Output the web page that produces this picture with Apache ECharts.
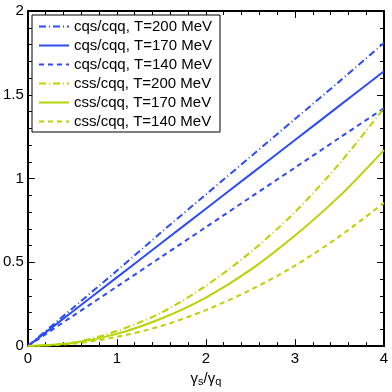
<!DOCTYPE html>
<html>
<head>
<meta charset="utf-8">
<script src="https://cdn.jsdelivr.net/npm/echarts@6/dist/echarts.min.js"></script>
<style>
  html, body { margin: 0; padding: 0; background: #fff; }
  #chart { width: 392px; height: 392px; }
</style>
</head>
<body>
<div id="chart"></div>
<script>
// gamma_s / gamma_q sample points
const ratio = [0, 0.5, 1, 1.5, 2, 2.5, 3, 3.5, 4]

const cqs200 = [0, 0.225, 0.45, 0.68, 0.905, 1.13, 1.355, 1.58, 1.81]
const cqs170 = [0, 0.205, 0.41, 0.615, 0.82, 1.025, 1.23, 1.435, 1.64]
const cqs140 = [0, 0.178, 0.355, 0.533, 0.71, 0.888, 1.065, 1.243, 1.42]
const css200 = [0, 0.02, 0.09, 0.2, 0.36, 0.56, 0.8, 1.09, 1.42]
const css170 = [0, 0.018, 0.073, 0.165, 0.29, 0.455, 0.66, 0.895, 1.17]
const css140 = [0, 0.014, 0.055, 0.12, 0.215, 0.335, 0.48, 0.655, 0.855]

const names = [
  'cqs/cqq, T=200 MeV', 'cqs/cqq, T=170 MeV', 'cqs/cqq, T=140 MeV',
  'css/cqq, T=200 MeV', 'css/cqq, T=170 MeV', 'css/cqq, T=140 MeV'
]

const blue = '#2b4cf6'
const green = '#b2d600'
const dashDot = [7, 3, 1, 3]
const dashed = [5, 4]

const pairs = (ys) => ratio.map((x, i) => [x, ys[i]])

const makeSeries = (name, ys, color, type) => ({
  name,
  type: 'line',
  data: pairs(ys),
  smooth: 0.3,
  symbol: 'none',
  lineStyle: { color, width: 2, type },
  itemStyle: { color }
})

const font = 'Liberation Sans, Arial, sans-serif'

// box axes, ticks pointing inward on all four sides
const makeAxis = (max, interval, position, labels, margin) => ({
  type: 'value',
  min: 0,
  max,
  interval,
  position,
  axisLine: { show: true, onZero: false, lineStyle: { color: '#000', width: 2 } },
  axisTick: { show: true, inside: true, length: 7, lineStyle: { color: '#000', width: 1 } },
  minorTick: { show: true, splitNumber: 5, length: 4, lineStyle: { color: '#000', width: 1 } },
  splitLine: { show: false },
  axisLabel: labels
    ? { show: true, color: '#000', fontSize: 15, fontFamily: font, margin }
    : { show: false }
})

const chart = echarts.init(document.getElementById('chart'))

const xMain = makeAxis(4, 1, 'bottom', true, 5)
xMain.name = '{g|γ}{s|s}{g|/γ}{s|q}'
xMain.nameLocation = 'middle'
xMain.nameGap = 22
xMain.nameTextStyle = {
  rich: {
    g: { fontFamily: font, fontSize: 15, color: '#000' },
    s: { fontFamily: font, fontSize: 11, color: '#000', padding: [6, 0, 0, 0] }
  }
}

chart.setOption({
  animation: false,
  grid: { left: 26, right: 8, top: 11, bottom: 44 },
  legend: {
    orient: 'vertical',
    left: 32,
    top: 15,
    padding: [4, 8, 3, 6],
    backgroundColor: '#fff',
    borderColor: '#000',
    borderWidth: 1,
    itemWidth: 30,
    itemHeight: 14,
    itemGap: 4,
    itemStyle: { opacity: 0 },
    textStyle: { fontFamily: font, fontSize: 15, color: '#000' },
    data: names
  },
  xAxis: [xMain, makeAxis(4, 1, 'top', false)],
  yAxis: [makeAxis(2, 0.5, 'left', true, 4), makeAxis(2, 0.5, 'right', false)],
  series: [
    makeSeries(names[0], cqs200, blue, dashDot),
    makeSeries(names[1], cqs170, blue, 'solid'),
    makeSeries(names[2], cqs140, blue, dashed),
    makeSeries(names[3], css200, green, dashDot),
    makeSeries(names[4], css170, green, 'solid'),
    makeSeries(names[5], css140, green, dashed)
  ]
})
</script>
</body>
</html>
